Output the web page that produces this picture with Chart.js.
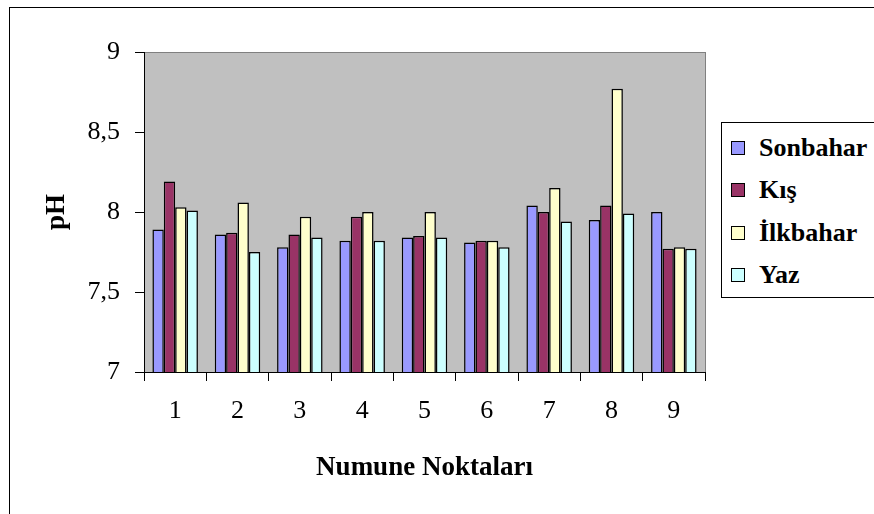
<!DOCTYPE html>
<html>
<head>
<meta charset="utf-8">
<script src="https://cdn.jsdelivr.net/npm/chart.js@4.4.0/dist/chart.umd.min.js"></script>
<style>
    body { margin: 0; background: #fff; overflow: hidden; }
    #wrap { position: relative; width: 874px; height: 514px; }
    #legend {
        position: absolute; left: 721px; top: 122px; width: 180px; height: 176px;
        border: 1px solid #000; background: #fff; box-sizing: border-box;
        font: bold 26px "Liberation Serif", "Times New Roman", serif; color: #000;
    }
    .item { position: absolute; left: 9px; height: 30px; line-height: 30px; white-space: nowrap; }
    .item span { display: inline-block; width: 12px; height: 12px; border: 1px solid #000; margin-right: 14px; vertical-align: 1px; }
</style>
</head>
<body>
<div id="wrap">
    <canvas id="phChart" width="874" height="514"></canvas>
    <div id="legend"></div>
</div>
<script>
const categories = ["1", "2", "3", "4", "5", "6", "7", "8", "9"];
const sonbahar = [7.89, 7.86, 7.78, 7.82, 7.84, 7.81, 8.04, 7.95, 8.00];
const kis = [8.19, 7.87, 7.86, 7.97, 7.85, 7.82, 8.00, 8.04, 7.77];
const ilkbahar = [8.03, 8.06, 7.97, 8.00, 8.00, 7.82, 8.15, 8.77, 7.78];
const yaz = [8.01, 7.75, 7.84, 7.82, 7.84, 7.78, 7.94, 7.99, 7.77];
const seriesNames = ["Sonbahar", "Kış", "İlkbahar", "Yaz"];
const yTickLabels = ["7", "7,5", "8", "8,5", "9"];

const colors = ["#9999FF", "#993366", "#FFFFCC", "#CCFFFF"];
const serif = '"Liberation Serif", "Times New Roman", serif';

// gray plot area + outer frame, like the Excel original
const backdrop = {
    id: "backdrop",
    beforeDraw(chart) {
        const { ctx, chartArea: a } = chart;
        ctx.save();
        ctx.fillStyle = "#C0C0C0";
        ctx.fillRect(a.left, a.top, a.right - a.left, a.bottom - a.top);
        ctx.strokeStyle = "#808080";
        ctx.lineWidth = 1;
        ctx.strokeRect(a.left + 0.5, a.top + 0.5, a.right - a.left, a.bottom - a.top);
        ctx.strokeStyle = "#000";
        ctx.strokeRect(9.5, 7.5, 900, 600);
        ctx.restore();
    }
};

const ctx = document.getElementById("phChart").getContext("2d");
const chart = new Chart(ctx, {
    type: "bar",
    data: {
        labels: categories,
        datasets: [sonbahar, kis, ilkbahar, yaz].map((d, i) => ({
            label: seriesNames[i],
            data: d,
            backgroundColor: colors[i],
            borderColor: "#000",
            borderWidth: 1.5,
            borderSkipped: false,
            barPercentage: 1,
            categoryPercentage: 0.73
        }))
    },
    options: {
        responsive: false,
        animation: false,
        layout: { padding: { left: 0, top: 52, right: 169, bottom: 0 } },
        plugins: {
            legend: { display: false },
            tooltip: { enabled: false }
        },
        scales: {
            x: {
                afterFit: (s) => { s.height = 142; },
                grid: { offset: true, drawOnChartArea: false, tickLength: 9, color: "#000" },
                border: { color: "#000" },
                ticks: { color: "#000", padding: 15, font: { family: serif, size: 26 } },
                title: {
                    display: true, text: "Numune Noktaları", color: "#000",
                    padding: { top: 0, bottom: 30 },
                    font: { family: serif, size: 27, weight: "bold" }
                }
            },
            y: {
                min: 7, max: 9,
                afterFit: (s) => { s.width = 144; },
                grid: { drawOnChartArea: false, tickLength: 9, color: "#000" },
                border: { color: "#000" },
                ticks: {
                    stepSize: 0.5, color: "#000", padding: 15,
                    font: { family: serif, size: 26 },
                    callback: (v, i) => yTickLabels[i]
                },
                title: {
                    display: true, text: "pH", color: "#000",
                    padding: { top: 41, bottom: 0 },
                    font: { family: serif, size: 27, weight: "bold" }
                }
            }
        }
    },
    plugins: [backdrop]
});

// legend box on the right, item centres measured from the box top
const legend = document.getElementById("legend");
const itemCentres = [26, 68, 111, 153];
seriesNames.forEach((name, i) => {
    const el = document.createElement("div");
    el.className = "item";
    el.style.top = (itemCentres[i] - 16) + "px";
    el.innerHTML = '<span style="background:' + colors[i] + '"></span>' + name;
    legend.appendChild(el);
});
</script>
</body>
</html>
